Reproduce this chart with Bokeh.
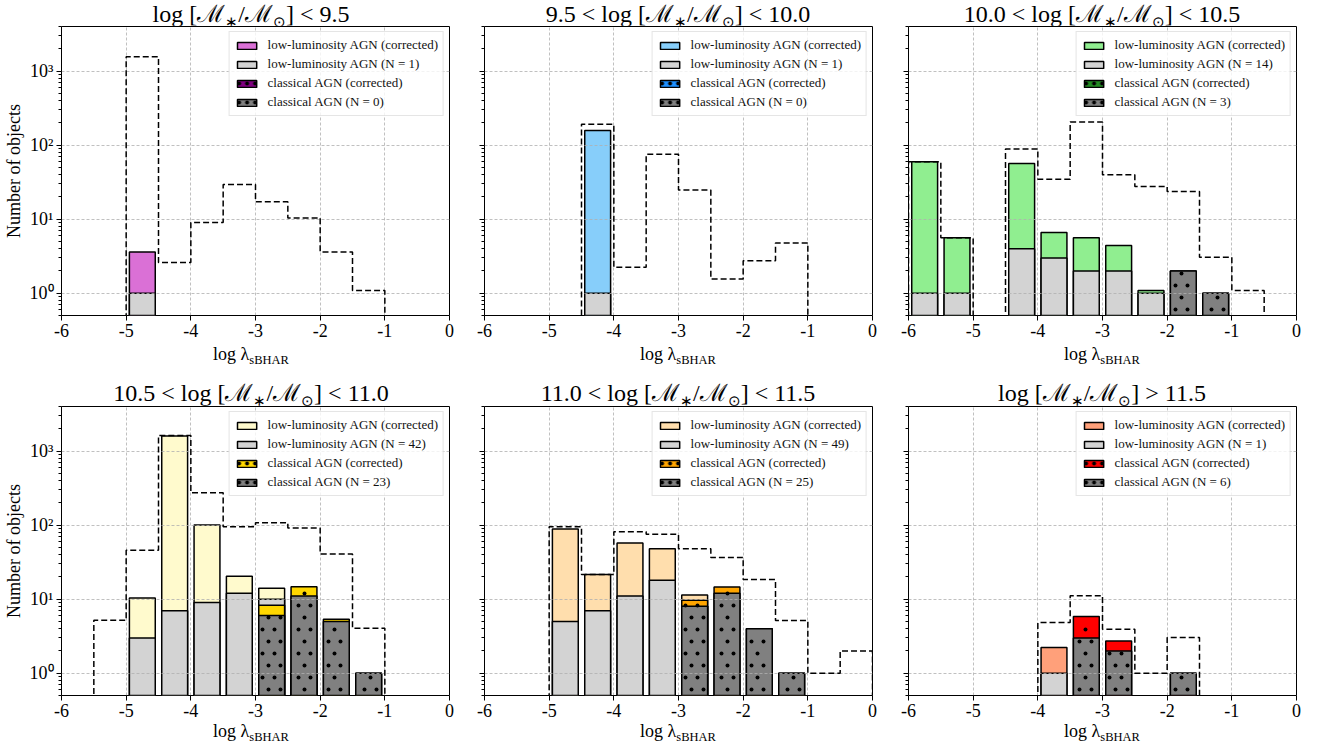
import math
from bokeh.plotting import figure
from bokeh.models import (ColumnDataSource, FixedTicker, Legend, LegendItem, Range1d, Div, Spacer)
from bokeh.layouts import column, row
from bokeh.embed import file_html
from bokeh.resources import INLINE

# ---------------- data ----------------
bin_edges = [-6.0, -5.5, -5.0, -4.5, -4.0, -3.5, -3.0, -2.5, -2.0, -1.5, -1.0, -0.5, 0.0]
x_ticks = [-6, -5, -4, -3, -2, -1, 0]
x_tick_labels = ["-6", "-5", "-4", "-3", "-2", "-1", "0"]
y_ticks = [1, 10, 100, 1000]
y_tick_labels = ["10⁰", "10¹", "10²", "10³"]

mass_prefix = ["", "9.5 &lt; ", "10.0 &lt; ", "10.5 &lt; ", "11.0 &lt; ", ""]
mass_suffix = [" &lt; 9.5", " &lt; 10.0", " &lt; 10.5", " &lt; 11.0", " &lt; 11.5", " &gt; 11.5"]
lowlum_colors = ["#DA70D6", "#87CEFA", "#90EE90", "#FFFACD", "#FFDEAD", "#FFA07A"]
classical_colors = ["#800080", "#1E90FF", "#228B22", "#FFD700", "#FFA500", "#FF0000"]
n_lowlum = [1, 1, 14, 42, 49, 1]
n_classical = [0, 0, 3, 23, 25, 6]

# bins: -6..-5.5, -5.5..-5, ..., -0.5..0
lowlum_obs_1 = [0, 0, 1, 0, 0, 0, 0, 0, 0, 0, 0, 0]
lowlum_corr_1 = [0, 0, 3.6, 0, 0, 0, 0, 0, 0, 0, 0, 0]
classical_obs_1 = [0, 0, 0, 0, 0, 0, 0, 0, 0, 0, 0, 0]
classical_corr_1 = [0, 0, 0, 0, 0, 0, 0, 0, 0, 0, 0, 0]
total_1 = [0, 0, 1560, 2.6, 9.0, 29.4, 17.2, 10.4, 3.6, 1.09, 0, 0]

lowlum_obs_2 = [0, 0, 0, 1, 0, 0, 0, 0, 0, 0, 0, 0]
lowlum_corr_2 = [0, 0, 0, 158, 0, 0, 0, 0, 0, 0, 0, 0]
classical_obs_2 = [0, 0, 0, 0, 0, 0, 0, 0, 0, 0, 0, 0]
classical_corr_2 = [0, 0, 0, 0, 0, 0, 0, 0, 0, 0, 0, 0]
total_2 = [0, 0, 0, 191, 2.24, 75.3, 24.7, 1.56, 2.75, 4.77, 0, 0]

lowlum_obs_3 = [1, 1, 0, 4, 3, 2, 2, 1, 0, 0, 0, 0]
lowlum_corr_3 = [59.4, 5.6, 0, 56.4, 6.6, 5.6, 4.4, 1.09, 0, 0, 0, 0]
classical_obs_3 = [0, 0, 0, 0, 0, 0, 0, 0, 2, 1, 0, 0]
classical_corr_3 = [0, 0, 0, 0, 0, 0, 0, 0, 2, 1, 0, 0]
total_3 = [59.4, 5.6, 0, 88.9, 34.7, 205, 39.7, 27.6, 23.7, 3.05, 1.09, 0]

lowlum_obs_4 = [0, 0, 3, 7, 9, 12, 10, 1, 0, 0, 0, 0]
lowlum_corr_4 = [0, 0, 10.4, 1596, 100, 20.4, 14.0, 1, 0, 0, 0, 0]
classical_obs_4 = [0, 0, 0, 0, 0, 0, 6, 11, 5, 1, 0, 0]
classical_corr_4 = [0, 0, 0, 0, 0, 0, 8.3, 14.7, 5.36, 1, 0, 0]
total_4 = [0, 5.19, 45.7, 1629, 274, 95.3, 108, 91.5, 40.8, 4.05, 0, 0]

lowlum_obs_5 = [0, 0, 5, 7, 11, 18, 8, 0, 0, 0, 0, 0]
lowlum_corr_5 = [0, 0, 88.7, 21.5, 57.4, 48.1, 11.4, 0, 0, 0, 0, 0]
classical_obs_5 = [0, 0, 0, 0, 0, 0, 8, 12, 4, 1, 0, 0]
classical_corr_5 = [0, 0, 0, 0, 0, 0, 9.67, 14.6, 4, 1, 0, 0]
total_5 = [0, 0, 95.3, 21.5, 81.6, 75.2, 48.1, 36.4, 18.4, 5.14, 1.0, 2.0]

lowlum_obs_6 = [0, 0, 0, 0, 1, 0, 0, 0, 0, 0, 0, 0]
lowlum_corr_6 = [0, 0, 0, 0, 2.22, 0, 0, 0, 0, 0, 0, 0]
classical_obs_6 = [0, 0, 0, 0, 0, 3, 2, 0, 1, 0, 0, 0]
classical_corr_6 = [0, 0, 0, 0, 0, 5.82, 2.73, 0, 1, 0, 0, 0]
total_6 = [0, 0, 0, 0, 4.83, 11.1, 3.93, 1.0, 3.03, 0, 0, 0]

panels = [
    (lowlum_obs_1, lowlum_corr_1, classical_obs_1, classical_corr_1, total_1),
    (lowlum_obs_2, lowlum_corr_2, classical_obs_2, classical_corr_2, total_2),
    (lowlum_obs_3, lowlum_corr_3, classical_obs_3, classical_corr_3, total_3),
    (lowlum_obs_4, lowlum_corr_4, classical_obs_4, classical_corr_4, total_4),
    (lowlum_obs_5, lowlum_corr_5, classical_obs_5, classical_corr_5, total_5),
    (lowlum_obs_6, lowlum_corr_6, classical_obs_6, classical_corr_6, total_6),
]

# ---------------- style ----------------
SERIF = "Liberation Serif"
FLOOR = 0.05
NAN = float("nan")
FW, FH = 388, 289
X0, X1 = -6.0, 0.0
Y0, Y1 = 0.5, 4000.0
BAR_W = 0.4
LEFT = [57, 20, 20]
RIGHT = [15, 16, 17]
DOT_STEP = 12.0      # px spacing of the dotted hatch texture
DOT_SIZE = 4.0
centers = [(bin_edges[i] + bin_edges[i + 1]) / 2 for i in range(len(bin_edges) - 1)]
minor_y = []
for dec in [0.1, 1, 10, 100, 1000]:
    for k in range(2, 10):
        minor_y.append(dec * k)


def bar_source(vals):
    return ColumnDataSource(dict(x=centers, top=[v if v > 0 else NAN for v in vals]))


def step_source(vals):
    xs, ys = [bin_edges[0]], [FLOOR]
    for i, v in enumerate(vals):
        yv = v if v > 0 else FLOOR
        xs += [bin_edges[i], bin_edges[i + 1]]
        ys += [yv, yv]
    xs.append(bin_edges[-1])
    ys.append(FLOOR)
    return ColumnDataSource(dict(x=xs, y=ys))


def dot_hatch_source(cl_obs, cl_corr):
    """staggered dot texture (like matplotlib's '.' hatch) inside the classical-AGN bars"""
    tops = [max(a, b) for a, b in zip(cl_obs, cl_corr)]
    ly0, ly1 = math.log10(Y0), math.log10(Y1)
    xpix = (X1 - X0) / FW
    ypad = 10 ** (2.5 * (ly1 - ly0) / FH)
    xs, ys = [], []
    nrows = int(FH / DOT_STEP) + 1
    for j in range(nrows):
        py = DOT_STEP / 2 + DOT_STEP * j
        yd = 10 ** (ly0 + (ly1 - ly0) * py / FH)
        off = DOT_STEP / 4 if j % 2 == 0 else 3 * DOT_STEP / 4
        px = off
        while px < FW:
            xd = X0 + px * xpix
            for c, t in zip(centers, tops):
                if t > 0 and abs(xd - c) < BAR_W / 2 - 3 * xpix and yd * ypad < t:
                    xs.append(xd)
                    ys.append(yd)
            px += DOT_STEP
    return ColumnDataSource(dict(x=xs, y=ys))


def title_html(i):
    sub = '<span style="font-size:15px;position:relative;top:5px">%s</span>'
    return (mass_prefix[i] + "log [ℳ" + sub % "∗" + "/ℳ" + sub % "⊙" + "]"
            + mass_suffix[i])


XLABEL = ('log λ<span style="font-size:12.5px;position:relative;top:4px">sBHAR</span>')


def padded(div, col, h):
    return row(Spacer(width=LEFT[col], height=h, margin=0), div,
               Spacer(width=RIGHT[col], height=h, margin=0), margin=0)


def make_panel(i):
    ll_obs, ll_corr, cl_obs, cl_corr, total = panels[i]
    col = i % 3
    rw = i // 3
    p = figure(frame_width=FW, frame_height=FH, y_axis_type="log",
               x_range=Range1d(X0, X1), y_range=Range1d(Y0, Y1),
               output_backend="svg", toolbar_location=None,
               min_border_left=LEFT[col], min_border_right=RIGHT[col],
               min_border_top=1, min_border_bottom=29, margin=0)
    p.background_fill_color = "white"
    p.border_fill_color = "white"
    p.outline_line_color = "black"
    p.outline_line_width = 1
    p.outline_line_alpha = 1

    common = dict(x="x", top="top", bottom=FLOOR, width=BAR_W, line_color="black",
                  line_width=1.5, level="image")
    r1 = p.vbar(source=bar_source(ll_corr), fill_color=lowlum_colors[i], **common)
    r2 = p.vbar(source=bar_source(ll_obs), fill_color="#D3D3D3", **common)
    p.vbar(source=bar_source(cl_corr), fill_color=classical_colors[i], **common)
    p.vbar(source=bar_source(cl_obs), fill_color="#808080", **common)
    p.scatter(x="x", y="y", source=dot_hatch_source(cl_obs, cl_corr), size=DOT_SIZE,
              marker="circle", fill_color="black", line_color=None, level="image")
    p.line(x="x", y="y", source=step_source(total), line_color="black",
           line_width=1.5, line_dash="6 3")

    # legend proxies for the dotted classical-AGN bars
    hatch = dict(hatch_pattern="dot", hatch_color="black", hatch_scale=8, hatch_weight=0.3)
    empty = [0] * len(centers)
    r3 = p.vbar(source=bar_source(empty), fill_color=classical_colors[i], **hatch, **common)
    r4 = p.vbar(source=bar_source(empty), fill_color="#808080", **hatch, **common)

    # axes
    p.xaxis.ticker = FixedTicker(ticks=x_ticks)
    p.xaxis.major_label_overrides = {t: s for t, s in zip(x_ticks, x_tick_labels)}
    p.yaxis.ticker = FixedTicker(ticks=y_ticks, minor_ticks=minor_y)
    if col == 0:
        p.yaxis.major_label_overrides = {t: s for t, s in zip(y_ticks, y_tick_labels)}
    else:
        p.yaxis.major_label_overrides = {t: "" for t in y_ticks}
    for ax in (p.xaxis[0], p.yaxis[0]):
        ax.axis_line_color = None
        ax.major_tick_line_color = "black"
        ax.major_tick_out = 5
        ax.major_tick_in = 0
        ax.minor_tick_out = 3
        ax.minor_tick_in = 0
        ax.major_label_text_font = SERIF
        ax.major_label_text_font_size = "18px"
        ax.major_label_text_color = "black"
        ax.major_label_standoff = 3
    p.xaxis.minor_tick_line_color = None
    p.yaxis.minor_tick_line_color = "black"
    if col == 0:
        p.yaxis.axis_label = "Number of objects"
        p.yaxis.axis_label_text_font = SERIF
        p.yaxis.axis_label_text_font_size = "18px"
        p.yaxis.axis_label_text_font_style = "normal"
        p.yaxis.axis_label_text_color = "black"
        p.yaxis.axis_label_standoff = 3

    # grid
    p.xgrid.ticker = FixedTicker(ticks=x_ticks)
    p.ygrid.ticker = FixedTicker(ticks=y_ticks)
    p.grid.grid_line_color = "#b0b0b0"
    p.grid.grid_line_width = 0.8
    p.grid.grid_line_dash = "3 2"

    legend = Legend(items=[
        LegendItem(label="low-luminosity AGN (corrected)", renderers=[r1]),
        LegendItem(label="low-luminosity AGN (N = %d)" % n_lowlum[i], renderers=[r2]),
        LegendItem(label="classical AGN (corrected)", renderers=[r3]),
        LegendItem(label="classical AGN (N = %d)" % n_classical[i], renderers=[r4]),
    ], location="top_right")
    legend.label_text_font = SERIF
    legend.label_text_font_size = "13px"
    legend.label_text_color = "#111111"
    legend.glyph_width = 24
    legend.glyph_height = 9
    legend.label_height = 15
    legend.label_standoff = 9
    legend.spacing = 3
    legend.padding = 5
    legend.margin = 5
    legend.border_line_color = "#cccccc"
    legend.border_line_width = 1
    legend.background_fill_alpha = 0.8
    p.add_layout(legend)

    # title and x label as html text (for sub-scripts)
    if rw == 0:
        t_pad, t_div = 3, 22
        x_h, x_lh = 22, 20
    else:
        t_pad, t_div = 16, 23
        x_h, x_lh = 16, 14
    t_h = t_pad + t_div
    title = Div(text=title_html(i), width=FW, height=t_div, margin=(t_pad, 0, 0, 0),
                styles={"font-family": SERIF, "font-size": "24px", "line-height": "22px",
                        "text-align": "center", "color": "black", "white-space": "nowrap"})
    xlab = Div(text=XLABEL, width=FW, height=x_h, margin=0,
               styles={"font-family": SERIF, "font-size": "18px", "line-height": "%dpx" % x_lh,
                       "text-align": "center", "color": "black", "white-space": "nowrap"})
    return column(padded(title, col, t_h), p, padded(xlab, col, x_h), margin=0)


cols = [make_panel(i) for i in range(6)]
layout = column(row(*cols[:3], margin=0), row(*cols[3:], margin=0), margin=0)
open("out.html", "w").write(file_html(layout, INLINE))
